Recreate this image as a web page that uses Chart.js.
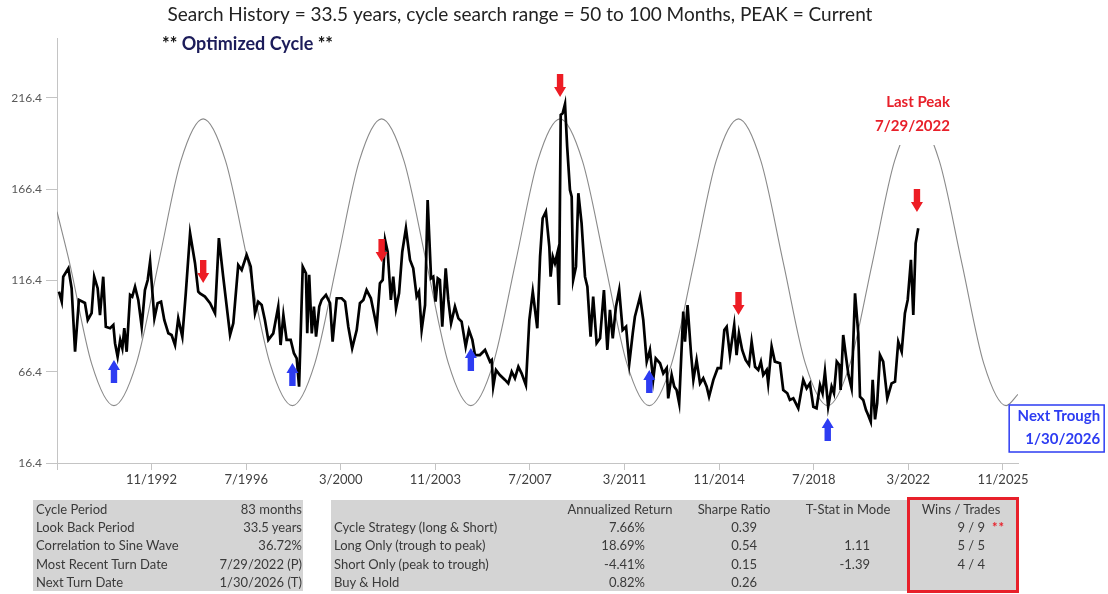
<!DOCTYPE html>
<html>
<head>
<meta charset="utf-8">
<script src="https://cdn.jsdelivr.net/npm/chart.js@4.4.1/dist/chart.umd.min.js"></script>
<style>
body { margin: 0; background: #fff; }
#wrap { position: relative; width: 1108px; height: 594px; overflow: hidden; font-family: Lato, 'Open Sans', sans-serif; }
#myChart { position: absolute; left: 0; top: 0; }
.tbl { position: absolute; background: #d4d4d4; }
.cell { position: absolute; font-size: 13px; color: #3a3a3a; white-space: nowrap; line-height: 18px; height: 18px; }
</style>
</head>
<body>
<div id="wrap">
<canvas id="myChart" width="1108" height="594"></canvas>
</div>
<script>
// month index counted from 3/1989
const monthIndex = [
    0.9,2.2,2.9,5.3,6.8,8.4,10.2,13.0,14.3,16.1,17.3,18.9,20.0,21.5,22.7,24.7,26.2,27.0,28.2,29.4,
    30.4,31.3,32.4,34.0,35.0,36.3,37.8,39.4,40.9,42.2,43.3,45.3,46.8,48.4,49.9,51.8,53.3,54.9,56.4,58.3,
    59.9,61.9,64.2,65.7,
    66.5,68.8,71.2,73.5,75.3,77.3,80.5,82.0,84.3,85.9,88.2,90.1,92.1,93.6,95.2,96.7,98.3,100.6,102.9,104.0,
    105.3,106.8,108.7,110.2,111.5,112.6,114.3,115.8,116.4,117.3,118.5,119.5,120.5,122.0,123.1,125.1,127.0,128.2,130.1,132.4,
    134.0,
    135.5,137.3,139.4,140.9,142.5,144.0,146.0,148.7,150.2,151.5,152.6,153.8,155.3,156.4,157.7,159.1,160.6,162.3,164.2,165.7,
    167.3,168.4,169.6,171.2,172.4,174.0,175.0,176.1,177.1,178.1,179.2,180.8,182.0,183.3,185.1,186.7,188.2,190.1,191.6,193.2,
    194.4,196.7,199.1,201.4,
    202.2,202.9,204.2,206.0,208.4,209.9,211.5,213.0,214.6,216.1,218.1,219.7,221.3,223.4,224.7,225.9,227.4,229.0,229.6,230.6,
    231.6,232.7,233.5,234.3,235.2,236.3,237.3,238.6,239.4,240.1,241.4,242.5,244.0,245.6,246.7,248.2,249.4,251.0,252.6,254.4,
    256.0,257.2,258.5,260.0,261.5,263.1,264.7,266.2,267.8,268.8,
    271.2,272.7,274.3,275.8,277.3,278.5,280.5,282.0,283.6,284.3,285.9,287.1,288.2,289.4,291.3,292.1,293.3,294.9,296.0,297.5,
    299.1,300.6,302.2,303.3,305.3,307.3,308.8,310.4,311.5,313.0,315.0,316.1,317.2,318.7,320.3,321.9,323.1,324.7,326.2,327.4,
    328.5,330.1,330.8,332.4,333.9,336.3,
    337.8,339.7,340.9,342.5,344.8,347.1,348.7,350.2,351.8,353.3,354.9,356.1,357.2,358.7,360.3,361.4,362.7,363.9,364.5,365.7,
    367.0,368.1,369.6,371.2,372.7,373.5,375.0,376.3,377.3,378.5,379.4,380.5,381.5,382.8,384.3,386.2,388.2,389.8,391.3,392.9,
    394.4,395.7,397.2,398.3,399.4,400.6
]
const priceValues = [
    110.2,104.7,118.4,123.0,112.1,77.3,105.7,104.0,94.7,98.5,118.4,112.1,97.4,118.4,91.0,90.2,92.0,82.0,74.6,83.8,
    79.2,90.2,77.3,108.4,107.5,112.9,105.7,91.0,111.1,116.6,126.6,95.6,103.9,104.7,94.7,87.4,86.5,81.0,95.6,85.6,
    109.3,142.2,125.8,110.2,
    109.3,107.5,103.9,98.4,139.5,118.4,86.5,92.9,124.8,122.1,130.3,123.9,98.4,104.7,102.9,94.7,83.8,87.4,102.0,81.0,
    97.4,83.8,83.8,76.5,73.7,58.2,123.9,120.3,87.4,119.4,87.4,102.0,85.6,102.0,105.7,108.4,103.9,82.8,106.6,106.6,
    104.7,
    91.0,79.2,89.2,103.9,105.7,111.1,106.6,91.0,114.8,116.6,138.5,132.1,105.7,118.4,101.1,109.3,132.1,144.9,127.6,123.0,
    107.5,110.2,89.2,102.9,160.4,117.5,118.4,104.7,117.5,116.6,91.0,123.0,105.7,92.9,102.0,95.6,93.8,80.1,89.2,83.8,
    75.5,75.5,78.3,71.9,
    72.8,58.2,67.3,64.6,61.9,60.0,66.4,62.8,69.1,65.5,59.1,94.7,110.2,90.2,129.4,150.4,154.0,134.8,118.4,129.4,
    125.8,131.2,102.9,207.0,207.9,213.0,189.6,165.9,162.2,116.6,123.9,164.1,147.7,118.4,112.9,85.6,107.5,82.0,84.7,111.1,
    78.3,100.2,84.7,102.0,111.1,89.2,91.0,71.0,87.4,96.5,
    107.5,94.7,71.9,78.3,61.9,73.7,71.0,65.5,68.3,51.8,64.6,58.2,56.4,49.1,99.3,82.8,102.9,76.5,61.9,72.8,
    60.0,62.8,58.2,52.7,61.9,68.3,68.3,89.2,91.0,75.5,92.0,75.5,87.4,78.3,72.8,70.1,82.8,69.1,67.3,71.9,
    64.6,67.3,60.0,80.1,71.9,71.0,
    56.4,54.6,50.9,51.8,46.4,61.9,57.3,60.0,47.2,46.4,59.1,54.6,66.4,47.2,58.2,54.6,71.9,70.1,56.4,86.5,
    74.6,64.9,57.3,109.3,87.4,52.7,50.9,45.4,42.7,39.0,61.9,40.3,49.1,75.5,71.9,51.8,60.0,60.9,82.8,77.3,
    98.4,105.7,127.6,97.4,136.7,144.9
]

// 83 month cycle curve, read at peaks, troughs and points between
const cycleMonths = [
    0, 5.8, 16.1, 26.5, 36.9, 47.3, 57.6, 68.0,
    78.4, 88.8, 99.1, 109.5, 119.9, 130.3, 140.6, 151.0,
    161.4, 171.8, 182.1, 192.5, 202.9, 213.3, 223.6, 234.0,
    244.4, 254.8, 265.1, 275.5, 285.9, 296.3, 306.6, 317.0,
    327.4, 337.8, 348.1, 358.5, 368.9, 379.3, 389.6, 400.0,
    410.4, 420.8, 431.1, 441.5, 447
]
const cycleValues = [
    154, 126.3, 70.8, 47.8, 70.8, 126.3, 181.8, 204.8,
    181.8, 126.3, 70.8, 47.8, 70.8, 126.3, 181.8, 204.8,
    181.8, 126.3, 70.8, 47.8, 70.8, 126.3, 181.8, 204.8,
    181.8, 126.3, 70.8, 47.8, 70.8, 126.3, 181.8, 204.8,
    181.8, 126.3, 70.8, 47.8, 70.8, 126.3, 181.8, 204.8,
    181.8, 126.3, 70.8, 47.8, 54
]

const xTickMonths = [0, 44, 88, 132, 176, 220, 264, 308, 352, 396, 440]
const xTickLabels = ['', '11/1992', '7/1996', '3/2000', '11/2003', '7/2007', '3/2011', '11/2014', '7/2018', '3/2022', '11/2025']
const yTicks = [16.4, 66.4, 116.4, 166.4, 216.4]

// turn markers: month and value where the arrow tip sits
const peakMonths = [68, 151, 234, 317, 400]
const peakTipValues = [115.0, 126.5, 216.8, 97.4, 153.8]
const troughMonths = [26.5, 109.5, 192.5, 275.5, 358.5]
const troughTipValues = [72.8, 71.2, 79.4, 67.3, 41.1]

const summaryLabels = ['Cycle Period', 'Look Back Period', 'Correlation to Sine Wave', 'Most Recent Turn Date', 'Next Turn Date']
const summaryValues = ['83 months', '33.5 years', '36.72%', '7/29/2022 (P)', '1/30/2026 (T)']
const statHeaders = ['Annualized Return', 'Sharpe Ratio', 'T-Stat in Mode', 'Wins / Trades']
const strategyNames = ['Cycle Strategy (long & Short)', 'Long Only (trough to peak)', 'Short Only (peak to trough)', 'Buy & Hold']
const annReturns = ['7.66%', '18.69%', '-4.41%', '0.82%']
const sharpeRatios = ['0.39', '0.54', '0.15', '0.26']
const tStats = ['', '1.11', '-1.39', '']
const winsTrades = ['9 / 9', '5 / 5', '4 / 4', '']

const FONT = "Lato, 'Open Sans', sans-serif"

const drawArrow = (ctx, cx, tipY, dir, color) => {
    const L = 23, headL = 10, headW = 6, shaftW = 3.2
    ctx.fillStyle = color
    ctx.beginPath()
    ctx.moveTo(cx, tipY)
    ctx.lineTo(cx + headW, tipY - headL * dir)
    ctx.lineTo(cx + shaftW, tipY - headL * dir)
    ctx.lineTo(cx + shaftW, tipY - L * dir)
    ctx.lineTo(cx - shaftW, tipY - L * dir)
    ctx.lineTo(cx - shaftW, tipY - headL * dir)
    ctx.lineTo(cx - headW, tipY - headL * dir)
    ctx.closePath()
    ctx.fill()
}

const overlay = {
    id: 'overlay',
    afterDatasetsDraw(chart) {
        const ctx = chart.ctx
        const x = chart.scales.x
        const y = chart.scales.y
        ctx.save()

        peakMonths.forEach((m, i) => {
            drawArrow(ctx, x.getPixelForValue(m), y.getPixelForValue(peakTipValues[i]), 1, '#ed1c24')
        })
        troughMonths.forEach((m, i) => {
            drawArrow(ctx, x.getPixelForValue(m), y.getPixelForValue(troughTipValues[i]), -1, '#2d3cf2')
        })

        // last peak label, white box over the curve
        let px = x.getPixelForValue(peakMonths[peakMonths.length - 1])
        ctx.fillStyle = '#fff'
        ctx.fillRect(px - 49, 88, 88, 57)
        ctx.fillStyle = '#e8202a'
        ctx.font = 'bold 15px ' + FONT
        ctx.textAlign = 'right'
        ctx.textBaseline = 'middle'
        ctx.fillText('Last Peak', px + 33, 102)
        ctx.fillText('7/29/2022', px + 33, 126)

        // next trough box
        let tx = x.getPixelForValue(441.5)
        ctx.fillStyle = '#fff'
        ctx.fillRect(tx + 3, 405, 95, 47)
        ctx.strokeStyle = '#2d3cf2'
        ctx.lineWidth = 1.5
        ctx.strokeRect(tx + 3, 405, 95, 47)
        ctx.fillStyle = '#2d3cf2'
        ctx.fillText('Next Trough', tx + 94, 416)
        ctx.fillText('1/30/2026', tx + 94, 439)

        // titles
        ctx.textAlign = 'center'
        ctx.fillStyle = '#222'
        ctx.font = '19px ' + FONT
        ctx.fillText('Search History = 33.5 years, cycle search range = 50 to 100 Months, PEAK = Current', 520, 15)
        ctx.textAlign = 'left'
        ctx.font = 'bold 18px ' + FONT
        let sx = 162
        ctx.fillStyle = '#111'
        ctx.fillText('** ', sx, 44)
        sx += ctx.measureText('** ').width
        ctx.fillStyle = '#1c1c5a'
        ctx.fillText('Optimized Cycle', sx, 44)
        sx += ctx.measureText('Optimized Cycle').width
        ctx.fillStyle = '#111'
        ctx.fillText(' **', sx, 44)

        ctx.restore()
    }
}

const ctx = document.getElementById('myChart')

const myChart = new Chart(ctx, {
    type: 'line',
    data: {
        datasets: [{
            label: 'Price',
            data: monthIndex.map((m, i) => ({ x: m, y: priceValues[i] })),
            borderColor: '#000',
            borderWidth: 2.7,
            pointRadius: 0,
            tension: 0,
        }, {
            label: 'Cycle',
            data: cycleMonths.map((m, i) => ({ x: m, y: cycleValues[i] })),
            borderColor: '#8a8a8a',
            borderWidth: 1.1,
            pointRadius: 0,
            cubicInterpolationMode: 'monotone',
        }],
    },
    options: {
        responsive: false,
        animation: false,
        layout: { padding: { left: 0, top: 38, right: 90, bottom: 101 } },
        plugins: { legend: { display: false }, tooltip: { enabled: false } },
        scales: {
            x: {
                type: 'linear',
                min: 0,
                max: 447,
                afterBuildTicks: (s) => { s.ticks = xTickMonths.map(v => ({ value: v })) },
                afterFit: (s) => { s.height = 30 },
                ticks: {
                    autoSkip: false,
                    maxRotation: 0,
                    padding: 2,
                    color: '#404040',
                    font: { family: FONT, size: 13 },
                    callback: (v, i) => xTickLabels[i],
                },
                grid: { drawOnChartArea: false, tickLength: 7, color: '#c4c4c4' },
                border: { color: '#c4c4c4' },
            },
            y: {
                min: 16.4,
                max: 249.1,
                afterBuildTicks: (s) => { s.ticks = yTicks.map(v => ({ value: v })) },
                afterFit: (s) => { s.width = 57 },
                ticks: {
                    padding: 4,
                    color: '#595959',
                    font: { family: FONT, size: 12 },
                    callback: (v) => v.toFixed(1),
                },
                grid: { drawOnChartArea: false, tickLength: 11, color: '#c4c4c4' },
                border: { color: '#c4c4c4' },
            },
        },
    },
    plugins: [overlay],
})

// tables under the chart
const wrap = document.getElementById('wrap')

const box = (left, top, width, height) => {
    let d = document.createElement('div')
    d.classList.add('tbl')
    d.style.left = left + 'px'
    d.style.top = top + 'px'
    d.style.width = width + 'px'
    d.style.height = height + 'px'
    wrap.append(d)
    return d
}

const cell = (text, x, yc, align, color) => {
    let s = document.createElement('div')
    s.classList.add('cell')
    s.textContent = text
    s.style.top = (yc - 9) + 'px'
    if (align == 'right') {
        s.style.right = (1108 - x) + 'px'
    } else if (align == 'center') {
        s.style.left = (x - 80) + 'px'
        s.style.width = '160px'
        s.style.textAlign = 'center'
    } else {
        s.style.left = x + 'px'
    }
    if (color) s.style.color = color
    wrap.append(s)
    return s
}

box(33, 500, 270, 91)
box(331, 500, 686, 91)
let redBox = box(907, 497, 106, 90)
redBox.style.background = 'transparent'
redBox.style.border = '3px solid #e8202a'

const rowY = [509, 527.2, 545.4, 563.6, 581.8]

summaryLabels.forEach((t, i) => {
    cell(t, 36, rowY[i], 'left')
    cell(summaryValues[i], 302, rowY[i], 'right')
})

const headerCenters = [620, 734, 848, 961]
statHeaders.forEach((t, i) => cell(t, headerCenters[i], rowY[0], 'center'))

strategyNames.forEach((t, i) => {
    let yc = rowY[i + 1]
    cell(t, 334, yc, 'left')
    cell(annReturns[i], 645, yc, 'right')
    cell(sharpeRatios[i], 757, yc, 'right')
    if (tStats[i]) cell(tStats[i], 870, yc, 'right')
    if (winsTrades[i]) cell(winsTrades[i], 985, yc, 'right')
})
let stars = cell('**', 992, rowY[1], 'left', '#e8202a')
stars.style.fontWeight = 'bold'
stars.style.letterSpacing = '1px'
</script>
</body>
</html>
